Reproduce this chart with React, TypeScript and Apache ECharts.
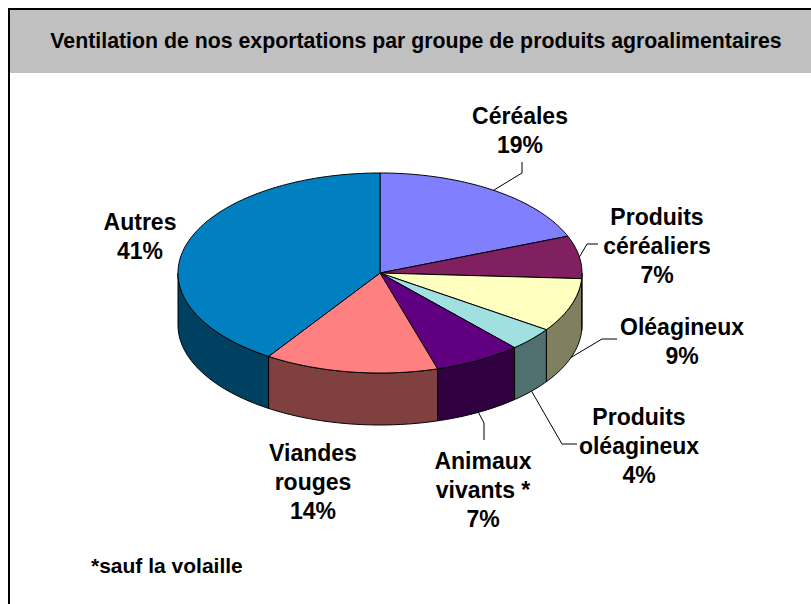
import React, { useEffect, useRef } from "react";
import * as echarts from "echarts";

// ---- Data ----
const CATEGORIES = [
  "Céréales",
  "Produits céréaliers",
  "Oléagineux",
  "Produits oléagineux",
  "Animaux vivants *",
  "Viandes rouges",
  "Autres",
];
const LABEL_NAMES = [
  "Céréales",
  "Produits\ncéréaliers",
  "Oléagineux",
  "Produits\noléagineux",
  "Animaux\nvivants *",
  "Viandes\nrouges",
  "Autres",
];
const VALUES = [19.0, 6.9, 8.7, 3.8, 7.0, 13.9, 40.7];

const TITLE = "Ventilation de nos exportations par groupe de produits agroalimentaires";
const FOOTNOTE = "*sauf la volaille";

// ---- Styles / layout ----
const TOP_COLORS = ["#8080FF", "#802060", "#FFFFC0", "#A0E0E0", "#600080", "#FF8080", "#0080C0"];
const SIDE_COLORS = ["#404080", "#401030", "#808060", "#507070", "#300040", "#804040", "#004060"];
const PIE = { cx: 380, cy: 273, rx: 202, ry: 100, depth: 52 };
const LABEL_POS: [number, number][] = [
  [520, 130],
  [657, 246],
  [682, 341],
  [639, 446],
  [483, 490],
  [313, 482],
  [140, 236],
];
const LEADER_ELBOWS: ([number, number][] | null)[] = [
  [[522, 162], [522, 173]],
  [[598, 244], [587, 244]],
  [[617, 339], [602, 339]],
  [[577, 444], [562, 444]],
  [[484, 440], [484, 423]],
  null,
  null,
];
const FONT = "Liberation Sans, Arial, Helvetica, sans-serif";

export default function App() {
  const ref = useRef<HTMLDivElement>(null);

  useEffect(() => {
    if (!ref.current) return;
    const chart = echarts.init(ref.current, undefined, { renderer: "svg" });
    const total = VALUES.reduce((a, b) => a + b, 0);
    const { cx, cy, rx, ry, depth } = PIE;
    const pt = (deg: number, dy = 0): [number, number] => {
      const r = (deg * Math.PI) / 180;
      return [cx + rx * Math.cos(r), cy - ry * Math.sin(r) + dy];
    };
    const arc = (from: number, to: number, dy = 0) => {
      const pts: [number, number][] = [];
      const n = Math.max(2, Math.ceil(Math.abs(from - to)));
      for (let k = 0; k <= n; k++) pts.push(pt(from + ((to - from) * k) / n, dy));
      return pts;
    };

    const renderItem = (params: any, api: any) => {
      const i = params.dataIndex;
      const v = api.value(0);
      let before = 0;
      for (let k = 0; k < i; k++) before += VALUES[k];
      const a0 = 90 - (before / total) * 360;
      const a1 = 90 - ((before + v) / total) * 360;
      const children: any[] = [];

      // side walls (front half only)
      for (let k = -1; k <= 1; k++) {
        const hi = Math.min(a0, 360 * k);
        const lo = Math.max(a1, -180 + 360 * k);
        if (hi > lo) {
          const pts = [...arc(hi, lo), ...arc(lo, hi, depth)];
          children.push({
            type: "polygon",
            shape: { points: pts },
            style: { fill: SIDE_COLORS[i], stroke: "#000", lineWidth: 1, lineJoin: "round" },
            silent: true,
          });
        }
      }
      // top face
      children.push({
        type: "polygon",
        shape: { points: [[cx, cy], ...arc(a0, a1)] },
        style: { fill: TOP_COLORS[i], stroke: "#000", lineWidth: 1, lineJoin: "round" },
        silent: true,
      });
      // leader line
      const elbows = LEADER_ELBOWS[i];
      if (elbows) {
        const mid = (a0 + a1) / 2;
        const onSide = Math.sin((mid * Math.PI) / 180) < -0.2;
        const end = pt(mid, onSide ? depth : 0);
        children.push({
          type: "polyline",
          shape: { points: [...elbows, end] },
          style: { stroke: "#000", lineWidth: 1, fill: null },
          silent: true,
        });
      }
      // label
      const pct = Math.round((v / total) * 100);
      children.push({
        type: "text",
        x: LABEL_POS[i][0],
        y: LABEL_POS[i][1],
        style: {
          text: LABEL_NAMES[i] + "\n" + pct + "%",
          fill: "#000",
          fontFamily: FONT,
          fontSize: 23,
          fontWeight: "bold",
          align: "center",
          verticalAlign: "middle",
          lineHeight: 29,
        },
        silent: true,
      });
      return { type: "group", children };
    };

    chart.setOption({
      animation: false,
      backgroundColor: "#ffffff",
      graphic: [
        {
          type: "rect",
          shape: { x: 10, y: 10, width: 801, height: 63 },
          style: { fill: "#C0C0C0" },
          silent: true,
        },
        {
          type: "line",
          shape: { x1: 9, y1: 8, x2: 9, y2: 604 },
          style: { stroke: "#000", lineWidth: 2 },
          silent: true,
        },
        {
          type: "line",
          shape: { x1: 8, y1: 9, x2: 811, y2: 9 },
          style: { stroke: "#000", lineWidth: 2 },
          silent: true,
        },
        {
          type: "text",
          x: 416,
          y: 41,
          style: {
            text: TITLE,
            fill: "#000",
            fontFamily: FONT,
            fontSize: 21.3,
            fontWeight: "bold",
            align: "center",
            verticalAlign: "middle",
          },
          silent: true,
        },
        {
          type: "text",
          x: 91,
          y: 565,
          style: {
            text: FOOTNOTE,
            fill: "#000",
            fontFamily: FONT,
            fontSize: 21,
            fontWeight: "bold",
            align: "left",
            verticalAlign: "middle",
          },
          silent: true,
        },
      ],
      series: [
        {
          type: "custom",
          coordinateSystem: "none",
          renderItem,
          data: VALUES.map((v, i) => ({ value: [v, i], name: CATEGORIES[i] })),
          silent: true,
        },
      ],
    });
    return () => chart.dispose();
  }, []);

  return (
    <div
      ref={ref}
      style={{ position: "fixed", left: 0, top: 0, width: 811, height: 604 }}
    />
  );
}
